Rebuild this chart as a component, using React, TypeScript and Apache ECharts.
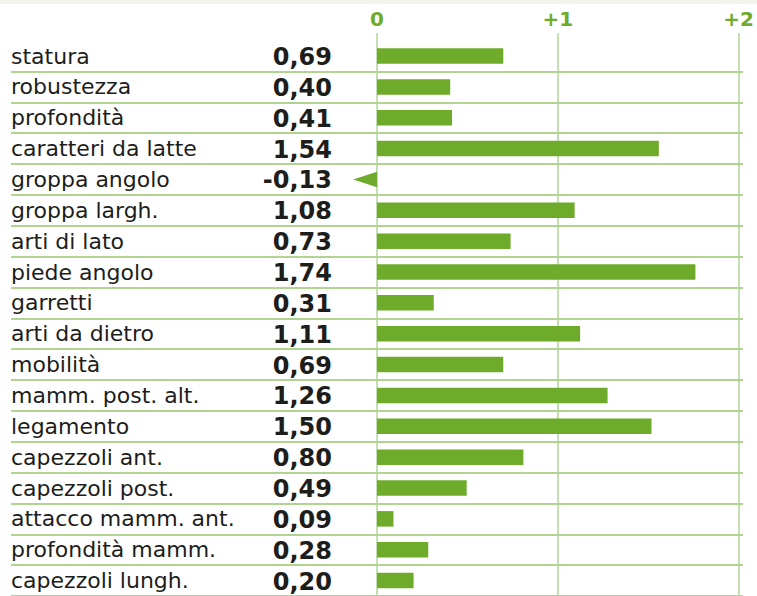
import React, { useEffect, useRef } from 'react';
import * as echarts from 'echarts';

const categories = [
  'statura', 'robustezza', 'profondità', 'caratteri da latte', 'groppa angolo',
  'groppa largh.', 'arti di lato', 'piede angolo', 'garretti', 'arti da dietro',
  'mobilità', 'mamm. post. alt.', 'legamento', 'capezzoli ant.', 'capezzoli post.',
  'attacco mamm. ant.', 'profondità mamm.', 'capezzoli lungh.',
];
const values = [
  0.69, 0.40, 0.41, 1.54, -0.13, 1.08, 0.73, 1.74, 0.31, 1.11,
  0.69, 1.26, 1.50, 0.80, 0.49, 0.09, 0.28, 0.20,
];
const scaleMin = 0;
const scaleMax = 2;
const scaleStep = 1;

const GREEN = '#6fab2a';
const TEXT = '#1d1d1b';
const FONT = '"DejaVu Sans", sans-serif';

const fmt = (v: number) => v.toFixed(2).replace('.', ',');

export default function App() {
  const ref = useRef<HTMLDivElement>(null);
  useEffect(() => {
    if (!ref.current) return;
    const chart = echarts.init(ref.current, undefined, { renderer: 'svg' });
    chart.setOption({
      animation: false,
      backgroundColor: '#ffffff',
      graphic: [
        { type: 'rect', left: 0, top: 0, shape: { width: 757, height: 4 }, style: { fill: '#f2f4ec' }, silent: true },
      ],
      grid: [
        { left: 11, right: 14, top: 40.6, height: 559 },
        { left: 377, right: 14, top: 33, height: 570 },
      ],
      xAxis: [
        { gridIndex: 0, type: 'value', min: -2, max: 2, show: false },
        {
          gridIndex: 1, type: 'value', min: scaleMin, max: scaleMax, interval: scaleStep, position: 'top',
          axisLine: { show: false }, axisTick: { show: false },
          axisLabel: {
            margin: 4, color: GREEN, fontWeight: 'bold', fontSize: 20, fontFamily: FONT,
            showMinLabel: true, showMaxLabel: true,
            formatter: (v: number) => (v === 0 ? '0' : '+' + v),
          },
          splitLine: { show: true, lineStyle: { color: '#b0d597', width: 1.5 } },
        },
      ],
      yAxis: [
        {
          gridIndex: 0, type: 'category', inverse: true, data: categories,
          axisLine: { show: false }, axisTick: { show: false },
          axisLabel: {
            inside: true, margin: 0, align: 'left', fontSize: 22, color: TEXT, fontFamily: FONT,
          },
          splitLine: { show: true, interval: (i: number) => i > 0, lineStyle: { color: '#97c66c', width: 1.5 } },
        },
        { gridIndex: 1, type: 'value', show: false },
      ],
      series: [
        {
          type: 'custom',
          xAxisIndex: 0,
          yAxisIndex: 0,
          data: values.map((v, i) => [v, i]),
          encode: { x: 0, y: 1 },
          renderItem: (params: any, api: any) => {
            const v = api.value(0);
            const idx = api.value(1);
            const zero = api.coord([0, idx]);
            const end = api.coord([v, idx]);
            const h = 15.5;
            const cy = zero[1];
            const mark =
              v >= 0
                ? { type: 'rect', shape: { x: zero[0], y: cy - h / 2, width: end[0] - zero[0], height: h }, style: { fill: GREEN } }
                : {
                    type: 'polygon',
                    shape: { points: [[end[0], cy], [zero[0], cy - h / 2], [zero[0], cy + h / 2]] },
                    style: { fill: GREEN },
                  };
            return {
              type: 'group',
              children: [
                mark,
                {
                  type: 'text',
                  style: {
                    text: fmt(v), x: 332, y: cy + 1, align: 'right', verticalAlign: 'middle',
                    fontSize: 24, fontWeight: 'bold', fontFamily: FONT, fill: TEXT,
                  },
                },
              ],
            };
          },
        },
      ],
    });
    return () => chart.dispose();
  }, []);
  return <div ref={ref} style={{ position: 'absolute', left: 0, top: 0, width: 757, height: 596 }} />;
}
